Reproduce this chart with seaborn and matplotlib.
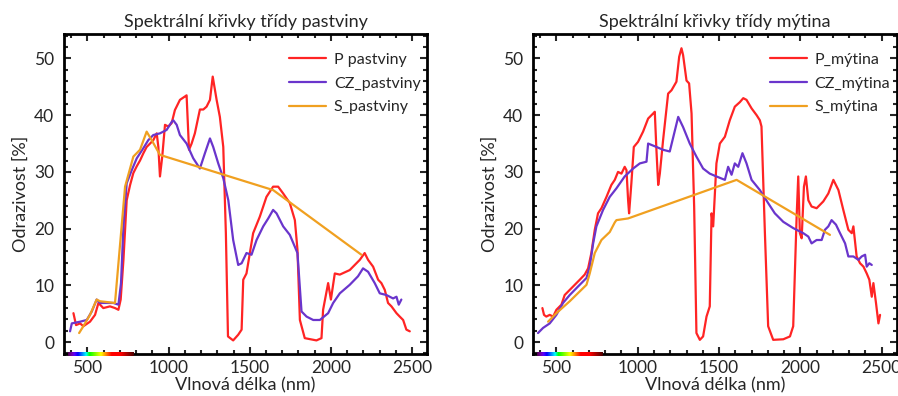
import numpy as np
import pandas as pd
import seaborn as sns
import matplotlib
matplotlib.use("Agg")
from matplotlib import pyplot as plt
from matplotlib.ticker import MultipleLocator

# Data (wavelength nm, reflectance %)
p_past_nm = [414, 430, 455, 475, 516, 547, 568, 598, 639, 670, 691, 705, 722, 742, 763, 783, 804, 824,
             845, 865, 886, 906, 927, 937, 947, 961, 978, 998, 1019, 1039, 1070, 1101, 1111, 1126, 1142,
             1162, 1193, 1214, 1234, 1255, 1272, 1296, 1316, 1337, 1353, 1366, 1398, 1429, 1450, 1460,
             1480, 1521, 1562, 1603, 1644, 1675, 1706, 1747, 1778, 1794, 1809, 1839, 1911, 1942, 1952,
             1983, 2000, 2024, 2055, 2116, 2178, 2208, 2229, 2260, 2291, 2311, 2332, 2352, 2373, 2404,
             2424, 2445, 2465, 2486]
p_past_val = [5.1, 3.0, 3.3, 2.8, 3.6, 4.8, 6.9, 6.0, 6.3, 6.0, 5.7, 7.5, 14.5, 25.0, 27.7, 29.8, 31.0,
              32.0, 33.3, 34.4, 35.0, 35.6, 36.8, 34.4, 29.2, 32.7, 38.3, 38.0, 38.6, 40.9, 42.7, 43.3,
              43.5, 33.9, 35.0, 36.8, 41.0, 41.0, 41.5, 42.7, 46.8, 42.7, 39.7, 34.4, 19.2, 1.0, 0.3, 1.3,
              2.2, 11.0, 12.1, 19.2, 22.1, 25.6, 27.4, 27.4, 26.2, 24.5, 21.5, 16.3, 3.9, 0.7, 0.3, 0.7,
              5.7, 10.4, 7.5, 12.1, 11.9, 12.7, 14.5, 15.7, 14.5, 13.3, 11.0, 10.4, 9.2, 6.9, 6.3, 5.1,
              4.5, 3.9, 2.2, 1.9]

cz_past_nm = [393, 404, 455, 496, 527, 557, 578, 619, 660, 691, 707, 722, 742, 773, 804, 845, 875, 906,
              947, 988, 1019, 1029, 1050, 1070, 1111, 1152, 1193, 1224, 1255, 1275, 1306, 1337, 1368,
              1398, 1429, 1450, 1480, 1511, 1542, 1583, 1614, 1644, 1665, 1706, 1747, 1778, 1794, 1819,
              1850, 1891, 1932, 1983, 2014, 2055, 2116, 2167, 2198, 2229, 2270, 2301, 2342, 2383, 2404,
              2418, 2434]
cz_past_val = [1.9, 3.3, 3.6, 3.9, 5.4, 7.5, 6.9, 6.9, 6.9, 6.6, 10.4, 20.4, 28.0, 30.3, 32.4, 34.2,
               35.6, 36.5, 36.8, 37.4, 38.8, 39.1, 38.3, 36.5, 35.0, 32.4, 30.6, 33.3, 35.9, 34.4, 31.5,
               28.9, 25.0, 18.0, 13.6, 13.9, 15.7, 15.4, 18.0, 20.4, 21.8, 23.3, 22.7, 20.4, 18.9, 16.8,
               15.7, 5.4, 4.5, 3.9, 3.9, 5.1, 6.9, 8.6, 10.1, 11.6, 13.0, 12.4, 10.4, 8.6, 8.3, 7.7, 8.0,
               6.6, 7.5]

s_past_nm = [449, 475, 516, 557, 578, 670, 732, 783, 824, 865, 896, 947, 1644, 2188]
s_past_val = [1.6, 2.8, 4.8, 7.5, 7.2, 6.9, 27.4, 32.7, 33.9, 37.1, 35.6, 33.0, 26.8, 15.4]

p_myt_nm = [414, 424, 438, 459, 480, 500, 531, 551, 582, 613, 644, 674, 695, 715, 736, 756, 777, 808,
            838, 859, 879, 900, 920, 931, 941, 947, 961, 976, 1002, 1033, 1064, 1095, 1105, 1115, 1126,
            1136, 1156, 1187, 1208, 1238, 1255, 1269, 1279, 1300, 1316, 1331, 1347, 1361, 1382, 1402,
            1423, 1443, 1454, 1464, 1484, 1505, 1536, 1566, 1597, 1628, 1649, 1669, 1700, 1731, 1751,
            1761, 1782, 1802, 1833, 1895, 1936, 1956, 1977, 1987, 1997, 2008, 2022, 2034, 2049, 2069,
            2100, 2141, 2172, 2203, 2234, 2264, 2295, 2316, 2326, 2346, 2367, 2388, 2408, 2424, 2439,
            2449, 2465, 2480, 2490]
p_myt_val = [6.0, 4.8, 4.5, 4.8, 4.5, 5.7, 6.6, 8.3, 9.2, 10.1, 11.0, 11.9, 13.0, 15.7, 19.8, 22.7,
             23.6, 25.6, 27.7, 28.6, 30.0, 29.7, 30.9, 30.3, 25.0, 22.7, 28.0, 34.4, 35.3, 37.1, 39.4,
             40.3, 40.6, 33.9, 27.7, 29.7, 35.6, 43.8, 44.4, 45.9, 50.3, 51.8, 50.6, 46.1, 45.6, 40.3,
             23.9, 1.6, 0.4, 1.0, 4.5, 6.3, 22.7, 20.4, 31.5, 35.0, 36.2, 39.1, 41.5, 42.3, 43.0, 42.7,
             41.2, 40.0, 39.1, 38.0, 19.2, 2.8, 0.4, 0.5, 1.0, 2.8, 22.1, 29.2, 19.2, 18.3, 27.4, 29.2,
             25.0, 23.9, 23.6, 24.8, 26.2, 28.6, 26.8, 23.3, 19.8, 19.2, 20.4, 15.1, 13.9, 13.3, 12.1,
             11.0, 8.0, 10.4, 6.9, 3.3, 4.8]

cz_myt_nm = [387, 418, 459, 500, 541, 582, 633, 685, 705, 726, 746, 787, 828, 869, 920, 972, 1013, 1054,
             1064, 1115, 1156, 1197, 1249, 1279, 1320, 1361, 1402, 1443, 1484, 1536, 1556, 1577, 1597,
             1618, 1644, 1669, 1700, 1751, 1802, 1843, 1895, 1956, 2018, 2049, 2069, 2100, 2131, 2151,
             2172, 2192, 2219, 2244, 2275, 2295, 2326, 2357, 2377, 2398, 2408, 2424, 2439]
cz_myt_val = [1.6, 2.5, 3.3, 4.8, 6.9, 8.3, 9.8, 11.3, 13.3, 17.4, 20.4, 23.3, 25.6, 27.1, 29.2, 30.6,
              31.5, 31.8, 35.0, 34.4, 33.9, 33.6, 39.7, 37.9, 35.0, 32.7, 30.6, 29.7, 29.2, 28.6, 30.9,
              29.5, 31.5, 30.9, 33.3, 31.5, 28.6, 26.8, 24.5, 22.7, 21.2, 20.1, 19.2, 18.6, 17.4, 18.0,
              18.0, 19.8, 20.4, 21.5, 20.7, 19.2, 17.4, 15.1, 15.1, 14.5, 15.1, 15.4, 13.3, 13.9, 13.6]

s_myt_nm = [449, 500, 582, 685, 705, 736, 777, 828, 859, 869, 941, 1608, 2182]
s_myt_val = [3.6, 5.1, 7.2, 10.1, 12.1, 15.7, 18.0, 19.4, 21.1, 21.5, 21.8, 28.6, 18.9]

titles = ["Spektrální křivky třídy pastviny", "Spektrální křivky třídy mýtina"]
labels_past = ["P pastviny", "CZ_pastviny", "S_pastviny"]
labels_myt = ["P_mýtina", "CZ_mýtina", "S_mýtina"]
colors = ["#FF2424", "#6A35CC", "#F0A020"]


def wavelength_to_rgb(wl):
    # rough visible spectrum colour for the strip under the x axis
    if wl < 440:
        r, g, b = -(wl - 440) / 60, 0.0, 1.0
    elif wl < 490:
        r, g, b = 0.0, (wl - 440) / 50, 1.0
    elif wl < 510:
        r, g, b = 0.0, 1.0, -(wl - 510) / 20
    elif wl < 580:
        r, g, b = (wl - 510) / 70, 1.0, 0.0
    elif wl < 645:
        r, g, b = 1.0, -(wl - 645) / 65, 0.0
    else:
        r, g, b = 1.0, 0.0, 0.0
    if wl < 420:
        f = 0.3 + 0.7 * (wl - 380) / 40
    elif wl > 700:
        f = 0.3 + 0.7 * (780 - wl) / 80
    else:
        f = 1.0
    return [r * f, g * f, b * f]


sns.set_theme(style="ticks")
plt.rcParams['font.family'] = ['Lato', 'DejaVu Sans']

fig = plt.figure(figsize=(8.98, 3.96), dpi=100)
ax1 = fig.add_axes([0.0713, 0.106, 0.4042, 0.808])
ax2 = fig.add_axes([0.5935, 0.106, 0.4050, 0.808])

panels = [
    (ax1, [(p_past_nm, p_past_val), (cz_past_nm, cz_past_val), (s_past_nm, s_past_val)], labels_past),
    (ax2, [(p_myt_nm, p_myt_val), (cz_myt_nm, cz_myt_val), (s_myt_nm, s_myt_val)], labels_myt),
]

spec_nm = np.arange(380, 782, 2)
spec = np.array([[wavelength_to_rgb(w) for w in spec_nm]])

for i, (ax, series, labels) in enumerate(panels):
    for (xs, ys), lab, col in zip(series, labels, colors):
        df = pd.DataFrame({"nm": xs, "val": ys})
        sns.lineplot(data=df, x="nm", y="val", ax=ax, color=col, lw=1.6,
                     label=lab, estimator=None, sort=False)

    ax.set_title(titles[i], fontsize=13, pad=5)
    ax.set_xlabel("Vlnová délka (nm)", fontsize=13, labelpad=1)
    ax.set_ylabel("Odrazivost [%]", fontsize=13, labelpad=4)
    ax.xaxis.set_major_locator(MultipleLocator(500))
    ax.xaxis.set_minor_locator(MultipleLocator(100))
    ax.yaxis.set_major_locator(MultipleLocator(10))
    ax.yaxis.set_minor_locator(MultipleLocator(2))
    ax.tick_params(which="both", direction="in", top=True, right=True, width=1.5, labelsize=12.5)
    ax.tick_params(which="major", length=5)
    ax.tick_params(axis="y", which="major", pad=7)
    ax.tick_params(axis="x", which="major", pad=4)
    ax.tick_params(which="minor", length=3)
    for sp in ax.spines.values():
        sp.set_linewidth(2)
        sp.set_color("black")

    # visible spectrum strip on the bottom axis
    ax.imshow(spec, extent=(380, 782, -2.45, -1.75), aspect="auto", zorder=6, clip_on=False)
    ax.set_xlim(356, 2592)
    ax.set_ylim(-2.1, 54.3)

    ax.legend(loc="upper right", bbox_to_anchor=(1.0, 0.962), frameon=False, fontsize=11.5,
              handlelength=2.3, labelspacing=0.6, borderaxespad=0.0, handletextpad=0.5)

fig.savefig("out.png", dpi=100)
